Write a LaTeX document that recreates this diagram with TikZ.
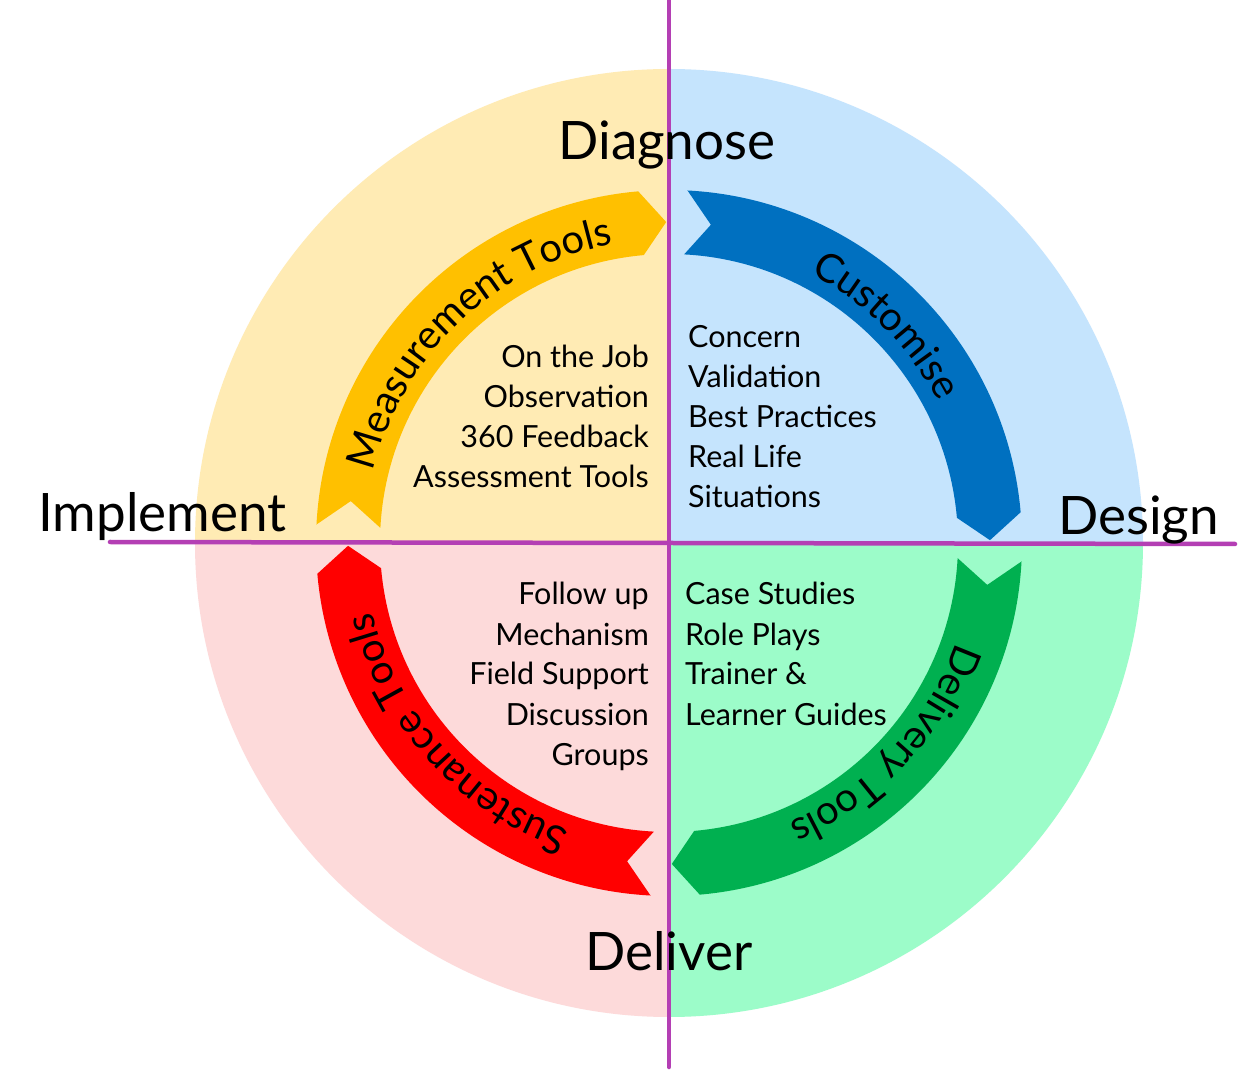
\documentclass[tikz,border=0pt]{standalone}
\usepackage{fontspec}
\setmainfont{Lato}
\usetikzlibrary{decorations.text}
\definecolor{qyellow}{HTML}{FFEBB4}
\definecolor{qblue}{HTML}{C5E4FD}
\definecolor{qpink}{HTML}{FDDADA}
\definecolor{qgreen}{HTML}{9CFCC9}
\definecolor{aorange}{HTML}{FFC000}
\definecolor{ablue}{HTML}{0070C0}
\definecolor{agreen}{HTML}{00B050}
\definecolor{ared}{HTML}{FF0000}
\definecolor{axispurple}{HTML}{B43FB4}
\newcommand\arcfont{\fontsize{40}{40}\selectfont}
\newcommand\myribbon[2]{%
  \fill[#2] (#1-3:353pt) arc[start angle=#1-3,end angle=#1-85,radius=353pt]
    -- (#1-89.5:321pt) -- (#1-85:289pt)
    arc[start angle=#1-85,end angle=#1-3,radius=289pt]
    -- (#1-7.5:321pt) -- cycle;}
\newcommand\myarctext[2]{%
  \path[decorate,decoration={text along path,text align=center,
    text={|\arcfont|#2}}]
    (#1+42:304pt) arc[start angle=#1+42,end angle=#1-42,radius=304pt];}
\begin{document}
\begin{tikzpicture}[x=1pt,y=1pt,
  axisline/.style={line width=4.5pt,draw=axispurple,line cap=round},
  biglabel/.style={font=\fontsize{53}{60}\selectfont,inner sep=0pt,text=black},
  bodytext/.style={font=\fontsize{30.5}{40}\selectfont,inner sep=0pt,text=black}]
\useasboundingbox (-669,-527) rectangle (583,543);
\fill[white] (-669,-527) rectangle (583,543);
% quadrants
\fill[qyellow] (0,0) -- (180:474pt) arc[start angle=180,end angle=90,radius=474pt] -- cycle;
\fill[qblue] (0,0) -- (90:474pt) arc[start angle=90,end angle=0,radius=474pt] -- cycle;
\fill[qgreen] (0,0) -- (0:474pt) arc[start angle=0,end angle=-90,radius=474pt] -- cycle;
\fill[qpink] (0,0) -- (-90:474pt) arc[start angle=-90,end angle=-180,radius=474pt] -- cycle;
% ribbons
\myribbon{180}{aorange}
\myribbon{90}{ablue}
\myribbon{0}{agreen}
\myribbon{-90}{ared}
% axes
\coordinate (vtop) at (0,543);
\coordinate (vbot) at (0,-524);
\coordinate (hleft) at (-559,1);
\coordinate (hright) at (566,-1);
\draw[axisline] (vtop) -- (vbot);
\draw[axisline] (hleft) -- (hright);
% ribbon texts
\myarctext{133.5}{Measurement Tools}
\myarctext{45}{Customise}
\myarctext{-43}{Delivery Tools}
\myarctext{-138}{Sustenance Tools}
% big labels
\node[biglabel,anchor=base] (diagnose) at (-2,383) {Diagnose};
\node[biglabel,anchor=base west] (implement) at (-631,11) {Implement};
\node[biglabel,anchor=base west] (design) at (389,8) {Design};
\node[biglabel,anchor=base] (deliver) at (0,-427) {Deliver};
% body texts
\node[bodytext,anchor=base east] (tl) at (-20,175)
  {\begin{tabular}[t]{@{}r@{}}On the Job\\Observation\\360 Feedback\\Assessment Tools\end{tabular}};
\node[bodytext,anchor=base west] (tr) at (19,195)
  {\begin{tabular}[t]{@{}l@{}}Concern\\Validation\\Best Practices\\Real Life\\Situations\end{tabular}};
\node[bodytext,anchor=base east] (bl) at (-20,-62)
  {\begin{tabular}[t]{@{}r@{}}Follow up\\Mechanism\\Field Support\\Discussion\\Groups\end{tabular}};
\node[bodytext,anchor=base west] (br) at (16,-62)
  {\begin{tabular}[t]{@{}l@{}}Case Studies\\Role Plays\\Trainer \&\\Learner Guides\end{tabular}};
\end{tikzpicture}
\end{document}
